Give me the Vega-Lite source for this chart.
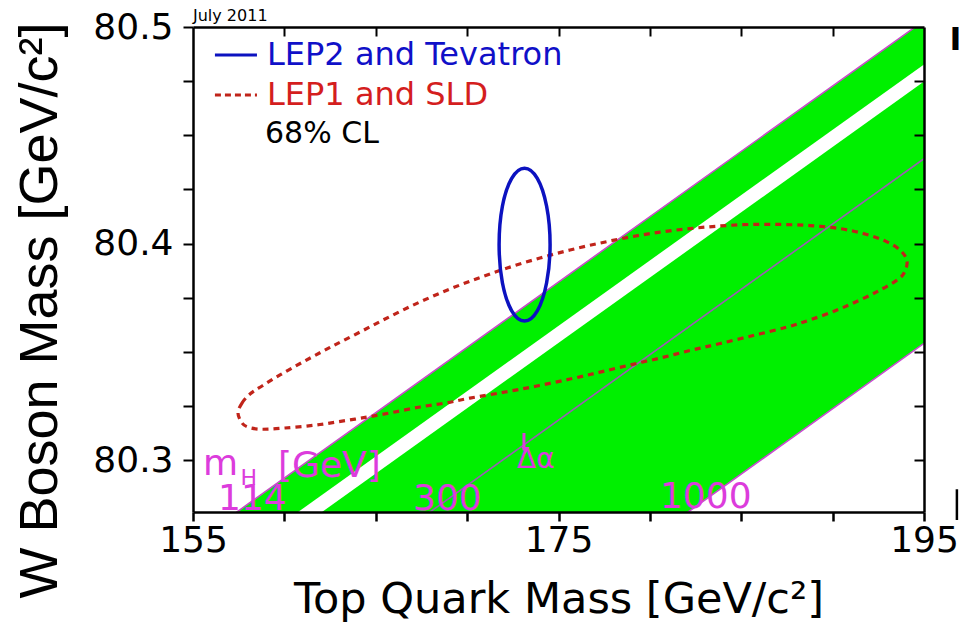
{
  "$schema": "https://vega.github.io/schema/vega-lite/v6.json",
  "width": 731,
  "height": 485,
  "autosize": {"type": "none"},
  "padding": {"left": 193, "top": 27, "right": 35, "bottom": 113},
  "background": "white",
  "config": {"view": {"stroke": null}, "axis": {"grid": false}},
  "datasets": {
    "bands": [
      {"band": "a", "x": 155, "lo": 80.2413, "hi": 80.2615},
      {"band": "a", "x": 195, "lo": 80.4827, "hi": 80.5029},
      {"band": "b", "x": 155, "lo": 80.1125, "hi": 80.2334},
      {"band": "b", "x": 195, "lo": 80.3539, "hi": 80.4748}
    ],
    "mhlines": [
      {"line": "114", "x": 155, "y": 80.2615},
      {"line": "114", "x": 195, "y": 80.5029},
      {"line": "300", "x": 155, "y": 80.1977},
      {"line": "300", "x": 195, "y": 80.4392},
      {"line": "1000", "x": 155, "y": 80.1125},
      {"line": "1000", "x": 195, "y": 80.3539}
    ],
    "lep1": [
      {"i": 1, "x": 157.462, "y": 80.3217},
      {"i": 2, "x": 157.681, "y": 80.3263},
      {"i": 3, "x": 158.119, "y": 80.3305},
      {"i": 4, "x": 158.776, "y": 80.3342},
      {"i": 5, "x": 159.761, "y": 80.3393},
      {"i": 6, "x": 161.019, "y": 80.3453},
      {"i": 7, "x": 162.497, "y": 80.3520},
      {"i": 8, "x": 164.138, "y": 80.3591},
      {"i": 9, "x": 165.780, "y": 80.3663},
      {"i": 10, "x": 167.421, "y": 80.3730},
      {"i": 11, "x": 169.063, "y": 80.3790},
      {"i": 12, "x": 170.705, "y": 80.3843},
      {"i": 13, "x": 172.346, "y": 80.3891},
      {"i": 14, "x": 173.988, "y": 80.3933},
      {"i": 15, "x": 175.629, "y": 80.3970},
      {"i": 16, "x": 177.271, "y": 80.4002},
      {"i": 17, "x": 178.912, "y": 80.4030},
      {"i": 18, "x": 180.554, "y": 80.4053},
      {"i": 19, "x": 182.196, "y": 80.4069},
      {"i": 20, "x": 183.837, "y": 80.4081},
      {"i": 21, "x": 185.479, "y": 80.4088},
      {"i": 22, "x": 187.120, "y": 80.4088},
      {"i": 23, "x": 188.762, "y": 80.4083},
      {"i": 24, "x": 190.404, "y": 80.4069},
      {"i": 25, "x": 191.772, "y": 80.4044},
      {"i": 26, "x": 192.866, "y": 80.4012},
      {"i": 27, "x": 193.687, "y": 80.3970},
      {"i": 28, "x": 194.070, "y": 80.3919},
      {"i": 29, "x": 193.906, "y": 80.3864},
      {"i": 30, "x": 193.523, "y": 80.3831},
      {"i": 31, "x": 192.592, "y": 80.3785},
      {"i": 32, "x": 191.498, "y": 80.3739},
      {"i": 33, "x": 190.240, "y": 80.3693},
      {"i": 34, "x": 188.762, "y": 80.3647},
      {"i": 35, "x": 187.503, "y": 80.3614},
      {"i": 36, "x": 185.752, "y": 80.3577},
      {"i": 37, "x": 183.837, "y": 80.3538},
      {"i": 38, "x": 182.196, "y": 80.3506},
      {"i": 39, "x": 180.554, "y": 80.3471},
      {"i": 40, "x": 178.912, "y": 80.3439},
      {"i": 41, "x": 177.271, "y": 80.3406},
      {"i": 42, "x": 175.629, "y": 80.3374},
      {"i": 43, "x": 173.824, "y": 80.3342},
      {"i": 44, "x": 172.073, "y": 80.3314},
      {"i": 45, "x": 170.157, "y": 80.3286},
      {"i": 46, "x": 168.789, "y": 80.3263},
      {"i": 47, "x": 167.421, "y": 80.3245},
      {"i": 48, "x": 166.053, "y": 80.3222},
      {"i": 49, "x": 164.850, "y": 80.3203},
      {"i": 50, "x": 163.865, "y": 80.3189},
      {"i": 51, "x": 162.880, "y": 80.3176},
      {"i": 52, "x": 161.949, "y": 80.3164},
      {"i": 53, "x": 161.019, "y": 80.3155},
      {"i": 54, "x": 160.034, "y": 80.3148},
      {"i": 55, "x": 159.213, "y": 80.3143},
      {"i": 56, "x": 158.557, "y": 80.3143},
      {"i": 57, "x": 158.010, "y": 80.3152},
      {"i": 58, "x": 157.681, "y": 80.3171}
    ],
    "lep2": [
      {"i": 1, "x": 174.54, "y": 80.3995},
      {"i": 2, "x": 174.35, "y": 80.4172},
      {"i": 3, "x": 173.84, "y": 80.4301},
      {"i": 4, "x": 173.14, "y": 80.4348},
      {"i": 5, "x": 172.44, "y": 80.4301},
      {"i": 6, "x": 171.93, "y": 80.4172},
      {"i": 7, "x": 171.75, "y": 80.3995},
      {"i": 8, "x": 171.93, "y": 80.3819},
      {"i": 9, "x": 172.44, "y": 80.3689},
      {"i": 10, "x": 173.14, "y": 80.3642},
      {"i": 11, "x": 173.84, "y": 80.3689},
      {"i": 12, "x": 174.35, "y": 80.3819}
    ],
    "legseg": [
      {"seg": "LEP2 and Tevatron", "x": 156.2, "y": 80.4871},
      {"seg": "LEP2 and Tevatron", "x": 158.5, "y": 80.4871},
      {"seg": "LEP1 and SLD", "x": 156.2, "y": 80.4686},
      {"seg": "LEP1 and SLD", "x": 158.5, "y": 80.4686}
    ]
  },
  "resolve": {"axis": {"x": "independent", "y": "independent"}},
  "layer": [
    {
      "data": {"name": "bands"},
      "mark": {"type": "area", "clip": true, "color": "#00f000", "opacity": 1},
      "encoding": {
        "x": {
          "field": "x", "type": "quantitative",
          "scale": {"domain": [155, 195], "nice": false, "zero": false},
          "axis": {
            "orient": "bottom",
            "values": [155, 160, 165, 170, 175, 180, 185, 190, 195],
            "labelExpr": "datum.value % 20 == 15 ? datum.label : ''",
            "title": "Top Quark Mass [GeV/c²]",
            "tickSize": 9, "tickWidth": 2.5, "tickColor": "black",
            "domainColor": "black", "domainWidth": 2.5,
            "labelFont": "DejaVu Sans", "labelFontSize": 36, "labelColor": "black",
            "labelPadding": 2, "labelFlush": false, "labelOverlap": false,
            "titleFont": "DejaVu Sans", "titleFontSize": 43, "titleFontWeight": "normal",
            "titleColor": "black", "titleY": 100, "titleBaseline": "alphabetic",
            "zindex": 2
          }
        },
        "y": {
          "field": "lo", "type": "quantitative",
          "scale": {"domain": [80.276, 80.5], "nice": false, "zero": false},
          "axis": {
            "orient": "left",
            "values": [80.3, 80.325, 80.35, 80.375, 80.4, 80.425, 80.45, 80.475, 80.5],
            "labelExpr": "abs(datum.value*10 - round(datum.value*10)) < 0.01 ? format(datum.value, '.1f') : ''",
            "title": "W Boson Mass [GeV/c²]",
            "tickSize": 10, "tickWidth": 2, "tickColor": "black",
            "domainColor": "black", "domainWidth": 2.5,
            "labelFont": "DejaVu Sans", "labelFontSize": 36, "labelColor": "black",
            "labelPadding": 10, "labelFlush": false, "labelOverlap": false,
            "titleFont": "Liberation Sans", "titleFontSize": 54, "titleFontWeight": "normal",
            "titleColor": "black", "titleAngle": -90, "titleX": -153, "titleY": 283,
            "titleAlign": "center", "titleBaseline": "middle",
            "zindex": 2
          }
        },
        "y2": {"field": "hi"},
        "detail": {"field": "band"}
      }
    },
    {
      "data": {"name": "mhlines"},
      "mark": {"type": "line", "clip": true, "strokeWidth": 1.6},
      "encoding": {
        "x": {"field": "x", "type": "quantitative", "axis": null},
        "y": {"field": "y", "type": "quantitative", "axis": null},
        "color": {
          "field": "line", "type": "nominal", "legend": null,
          "scale": {"domain": ["114", "300", "1000"], "range": ["#c84cc8", "#9a5cb4", "#c84cd0"]}
        }
      }
    },
    {
      "data": {"name": "lep1"},
      "mark": {"type": "line", "interpolate": "cardinal-closed", "color": "#c0241a", "strokeWidth": 3.2, "strokeDash": [6, 5]},
      "encoding": {
        "x": {"field": "x", "type": "quantitative", "axis": null},
        "y": {"field": "y", "type": "quantitative", "axis": null},
        "order": {"field": "i", "type": "quantitative"}
      }
    },
    {
      "data": {"name": "lep2"},
      "mark": {"type": "line", "interpolate": "cardinal-closed", "color": "#0c12c0", "strokeWidth": 3.5},
      "encoding": {
        "x": {
          "field": "x", "type": "quantitative",
          "axis": {
            "orient": "top", "values": [160, 165, 170, 175, 180, 185, 190],
            "labels": false, "title": null, "tickSize": -9, "tickWidth": 2,
            "tickColor": "black", "domainColor": "black", "domainWidth": 2.5, "zindex": 2
          }
        },
        "y": {
          "field": "y", "type": "quantitative",
          "axis": {
            "orient": "right", "values": [80.3, 80.325, 80.35, 80.375, 80.4, 80.425, 80.45, 80.475],
            "labels": false, "title": null, "tickSize": -10, "tickWidth": 2,
            "tickColor": "black", "domainColor": "black", "domainWidth": 2.5, "zindex": 2
          }
        },
        "order": {"field": "i", "type": "quantitative"}
      }
    },
    {
      "data": {"name": "legseg"},
      "transform": [{"filter": "datum.seg == 'LEP2 and Tevatron'"}],
      "mark": {"type": "line", "color": "#0c12c0", "strokeWidth": 3},
      "encoding": {
        "x": {"field": "x", "type": "quantitative", "axis": null},
        "y": {"field": "y", "type": "quantitative", "axis": null}
      }
    },
    {
      "data": {"name": "legseg"},
      "transform": [{"filter": "datum.seg == 'LEP1 and SLD'"}],
      "mark": {"type": "line", "color": "#c0241a", "strokeWidth": 3, "strokeDash": [6, 4]},
      "encoding": {
        "x": {"field": "x", "type": "quantitative", "axis": null},
        "y": {"field": "y", "type": "quantitative", "axis": null}
      }
    },
    {
      "data": {"values": [{"t": "LEP2 and Tevatron", "x": 159.05, "y": 80.4826}]},
      "mark": {"type": "text", "align": "left", "baseline": "alphabetic", "font": "DejaVu Sans", "fontSize": 32, "color": "#1010c8"},
      "encoding": {
        "x": {"field": "x", "type": "quantitative", "axis": null},
        "y": {"field": "y", "type": "quantitative", "axis": null},
        "text": {"field": "t"}
      }
    },
    {
      "data": {"values": [{"t": "LEP1 and SLD", "x": 159.05, "y": 80.4642}]},
      "mark": {"type": "text", "align": "left", "baseline": "alphabetic", "font": "DejaVu Sans", "fontSize": 32, "color": "#d41e1e"},
      "encoding": {
        "x": {"field": "x", "type": "quantitative", "axis": null},
        "y": {"field": "y", "type": "quantitative", "axis": null},
        "text": {"field": "t"}
      }
    },
    {
      "data": {"values": [{"t": "68% CL", "x": 158.94, "y": 80.4464}]},
      "mark": {"type": "text", "align": "left", "baseline": "alphabetic", "font": "DejaVu Sans", "fontSize": 30, "color": "black"},
      "encoding": {
        "x": {"field": "x", "type": "quantitative", "axis": null},
        "y": {"field": "y", "type": "quantitative", "axis": null},
        "text": {"field": "t"}
      }
    },
    {
      "data": {"values": [{"t": "July 2011", "x": 155.0, "y": 80.5028}]},
      "mark": {"type": "text", "align": "left", "baseline": "alphabetic", "font": "DejaVu Sans", "fontSize": 16, "color": "black"},
      "encoding": {
        "x": {"field": "x", "type": "quantitative", "axis": null},
        "y": {"field": "y", "type": "quantitative", "axis": null},
        "text": {"field": "t"}
      }
    },
    {
      "data": {"values": [
        {"t": "m", "x": 155.55, "y": 80.2931},
        {"t": "[GeV]", "x": 159.65, "y": 80.2922},
        {"t": "114", "x": 156.37, "y": 80.2769},
        {"t": "300", "x": 167.04, "y": 80.2769},
        {"t": "1000", "x": 180.55, "y": 80.2778}
      ]},
      "mark": {"type": "text", "align": "left", "baseline": "alphabetic", "font": "DejaVu Sans", "fontSize": 36, "color": "#dc3cdc"},
      "encoding": {
        "x": {"field": "x", "type": "quantitative", "axis": null},
        "y": {"field": "y", "type": "quantitative", "axis": null},
        "text": {"field": "t"}
      }
    },
    {
      "data": {"values": [{"t": "H", "x": 157.6, "y": 80.2885}]},
      "mark": {"type": "text", "align": "left", "baseline": "alphabetic", "font": "DejaVu Sans", "fontSize": 22, "color": "#dc3cdc"},
      "encoding": {
        "x": {"field": "x", "type": "quantitative", "axis": null},
        "y": {"field": "y", "type": "quantitative", "axis": null},
        "text": {"field": "t"}
      }
    },
    {
      "data": {"values": [{"t": "Δα", "x": 172.73, "y": 80.2963}]},
      "mark": {"type": "text", "align": "left", "baseline": "alphabetic", "font": "DejaVu Sans", "fontSize": 28, "color": "#dc3cdc"},
      "encoding": {
        "x": {"field": "x", "type": "quantitative", "axis": null},
        "y": {"field": "y", "type": "quantitative", "axis": null},
        "text": {"field": "t"}
      }
    },
    {
      "data": {"values": [{"x": 173.11, "y": 80.3125, "y2": 80.3045}]},
      "mark": {"type": "rule", "color": "#dc3cdc", "strokeWidth": 3},
      "encoding": {
        "x": {"field": "x", "type": "quantitative", "axis": null},
        "y": {"field": "y", "type": "quantitative", "axis": null},
        "y2": {"field": "y2"}
      }
    },
    {
      "data": {"values": [{"x": 173.2, "y": 80.3045}]},
      "mark": {"type": "point", "shape": "triangle-down", "filled": true, "size": 60, "color": "#dc3cdc", "opacity": 1},
      "encoding": {
        "x": {"field": "x", "type": "quantitative", "axis": null},
        "y": {"field": "y", "type": "quantitative", "axis": null}
      }
    },
    {
      "data": {"values": [{"t": "I", "x": 196.4, "y": 80.4894}]},
      "mark": {"type": "text", "align": "left", "baseline": "alphabetic", "font": "DejaVu Sans", "fontWeight": "bold", "fontSize": 32, "color": "black"},
      "encoding": {
        "x": {"field": "x", "type": "quantitative", "axis": null},
        "y": {"field": "y", "type": "quantitative", "axis": null},
        "text": {"field": "t"}
      }
    },
    {
      "data": {"values": [{"x": 196.8, "y": 80.2865, "y2": 80.2723}]},
      "mark": {"type": "rule", "color": "black", "strokeWidth": 2.5},
      "encoding": {
        "x": {"field": "x", "type": "quantitative", "axis": null},
        "y": {"field": "y", "type": "quantitative", "axis": null},
        "y2": {"field": "y2"}
      }
    }
  ]
}
